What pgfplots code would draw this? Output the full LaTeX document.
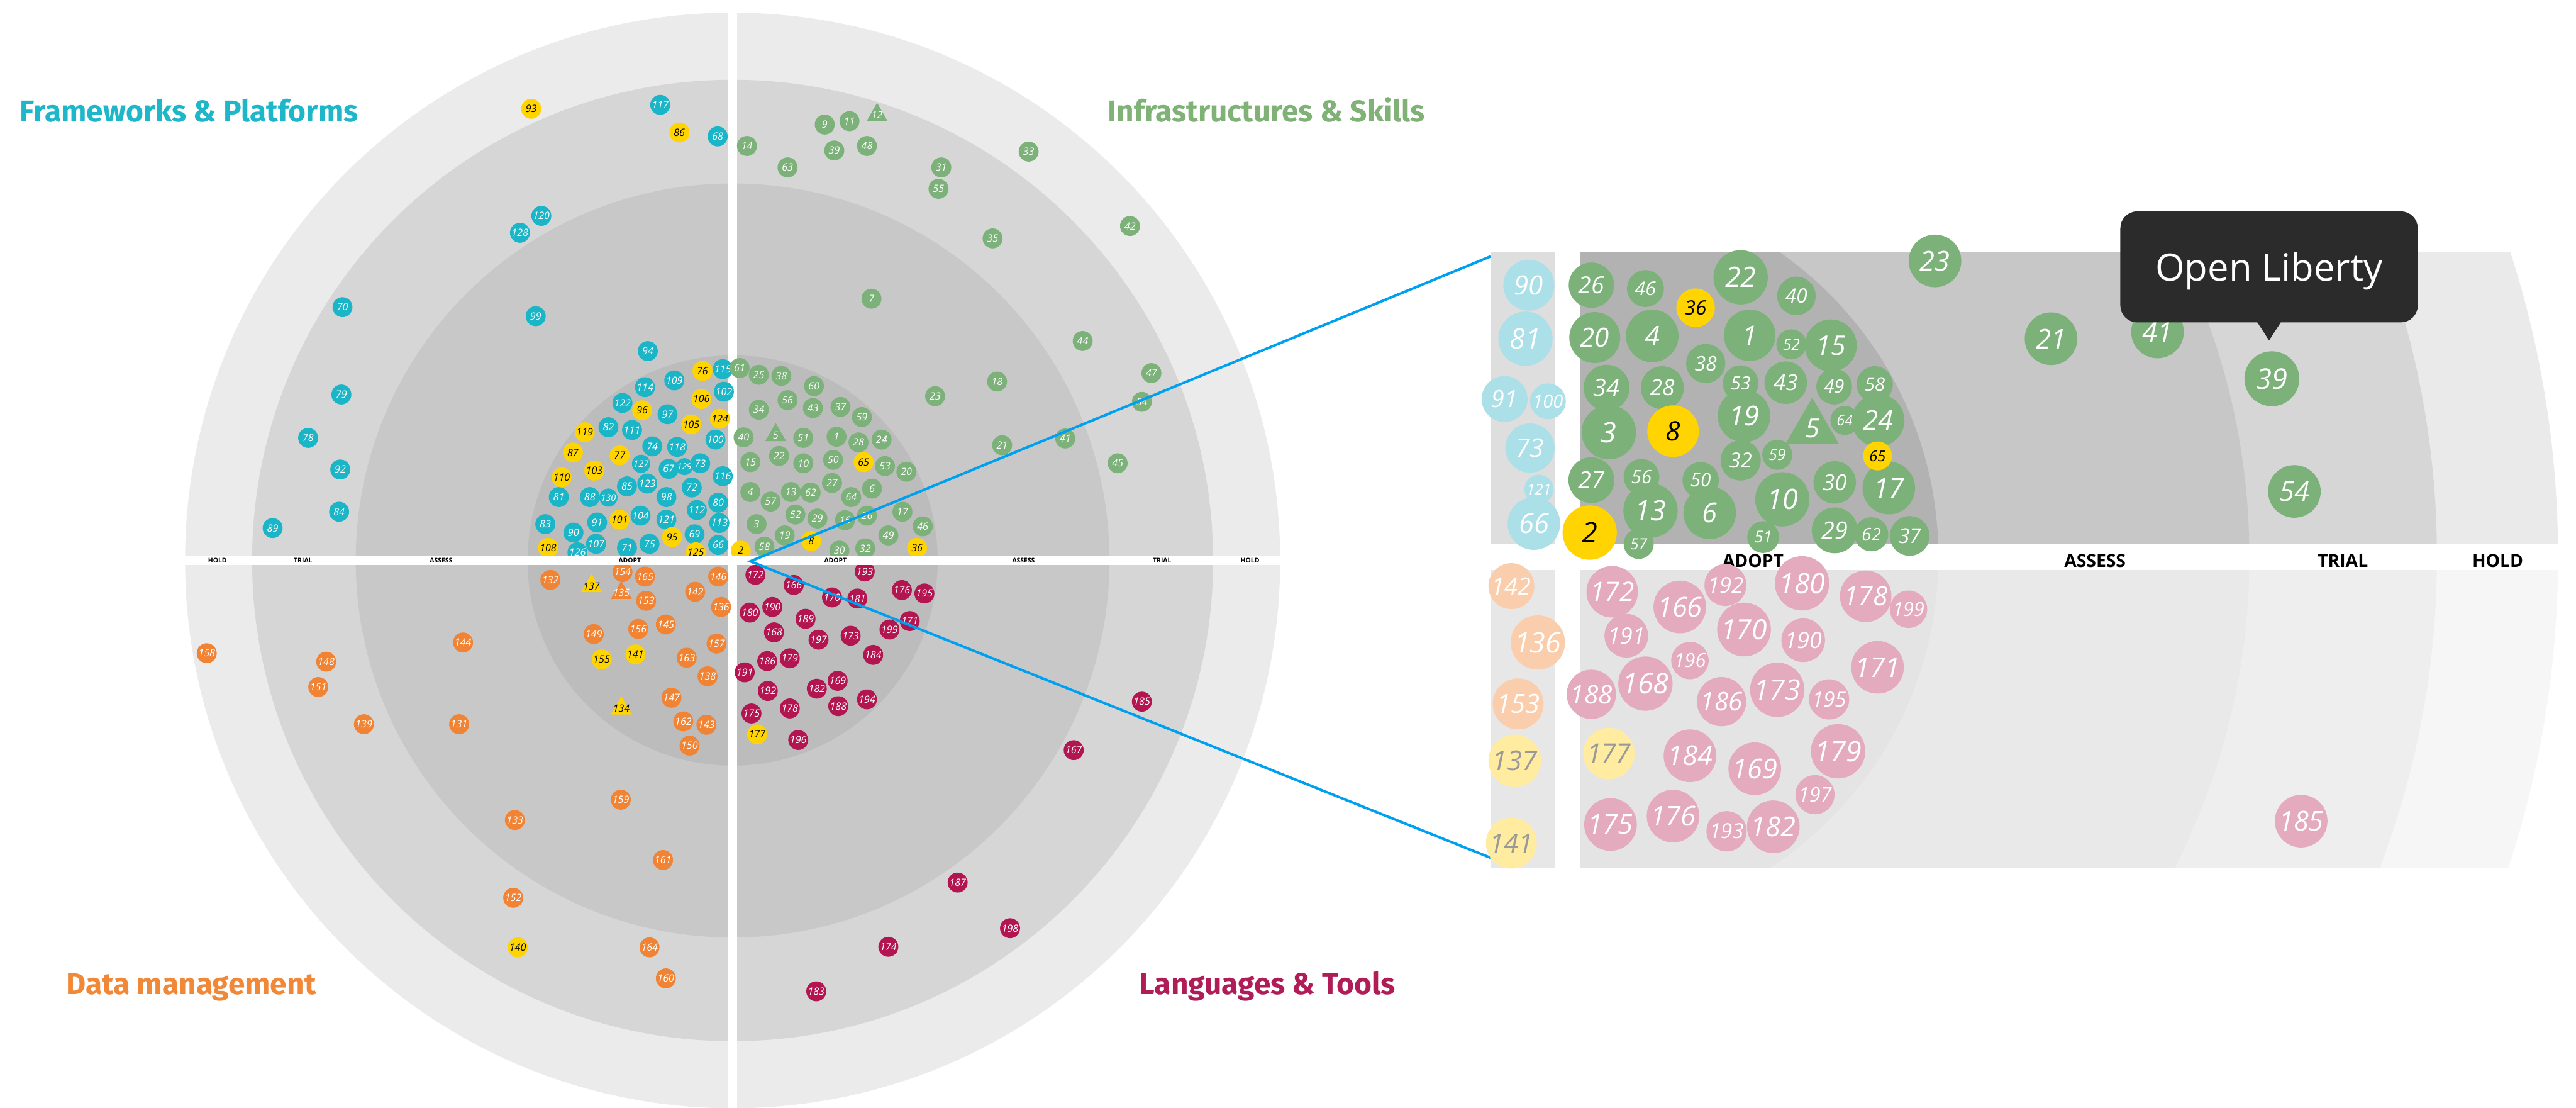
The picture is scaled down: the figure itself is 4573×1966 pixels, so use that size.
\documentclass[border=0pt]{standalone}
\usepackage{fontspec}
\setmainfont{Open Sans}
\newfontfamily\titlefont{Fira Sans}
\usepackage{pgfplots}
\pgfplotsset{compat=1.18}

\definecolor{cteal}{RGB}{27,181,200}
\definecolor{cgreen}{RGB}{124,178,122}
\definecolor{corange}{RGB}{240,131,52}
\definecolor{ccrim}{RGB}{178,21,80}
\definecolor{cyellow}{RGB}{255,212,0}
\definecolor{fteal}{RGB}{172,224,232}
\definecolor{fpeach}{RGB}{250,206,172}
\definecolor{fyellow}{RGB}{255,236,160}
\definecolor{fpink}{RGB}{228,170,190}
\definecolor{tteal}{RGB}{30,182,201}
\definecolor{tgreen}{RGB}{128,178,120}
\definecolor{torange}{RGB}{240,136,56}
\definecolor{tcrim}{RGB}{176,28,88}
\definecolor{bline}{RGB}{0,160,240}
\definecolor{tipc}{RGB}{43,43,43}

\pgfplotsset{
  bub/.style n args={4}{%
    scatter, only marks, mark=#3,
    point meta=\thisrow{d},
    visualization depends on={0.14226*\thisrow{d}\as\bubms},
    visualization depends on={#4*\thisrow{d}\as\bubfs},
    visualization depends on={value \thisrow{n}\as\bublbl},
    scatter/use mapped color={draw=#1, fill=#1},
    scatter/@pre marker code/.append style={/tikz/mark size=\bubms},
    nodes near coords*={\bublbl},
    nodes near coords align={center},
    nodes near coords style={anchor=center, inner sep=0pt, text=#2,
      font=\itshape\fontsize{\bubfs}{\bubfs}\selectfont},
  },
}

\begin{document}
\begin{tikzpicture}
% ---------------- backgrounds ----------------
\begin{scope}[x=0.1mm,y=-0.1mm]
  \path (0,0) rectangle (4573,1966);
  \fill[black!8] (1300.5,994.5) circle[radius=97.2mm];
  \fill[black!16] (1300.5,994.5) circle[radius=85.3mm];
  \fill[black!21.6] (1300.5,994.5) circle[radius=66.9mm];
  \fill[black!26.3] (1300.5,994.5) circle[radius=36.4mm];
  \fill[white] (1293,0) rectangle (1308,1966);
  % zoom panel
  \begin{scope}
    \clip (2804,448) rectangle (4573,965);
    \fill[black!8.2] (2782,988) circle[radius=175.9mm];
    \fill[black!16] (2782,988) circle[radius=154.4mm];
    \fill[black!22] (2782,988) circle[radius=121.1mm];
    \fill[black!30] (2782,988) circle[radius=65.9mm];
  \end{scope}
  \begin{scope}
    \clip (2804,1011) rectangle (4573,1540);
    \fill[black!3.5] (2782,988) circle[radius=175.9mm];
    \fill[black!6.5] (2782,988) circle[radius=154.4mm];
    \fill[black!8.5] (2782,988) circle[radius=121.1mm];
    \fill[black!10.5] (2782,988) circle[radius=65.9mm];
  \end{scope}
  \fill[black!13] (2646,448) rectangle (2760,965);
  \fill[black!9.5] (2646,1011) rectangle (2760,1540);
  % titles
  \node[anchor=base west, inner sep=0pt, text=tteal, font=\titlefont\bfseries\fontsize{15.2}{17}\selectfont] at (35,216) {Frameworks \& Platforms};
  \node[anchor=base west, inner sep=0pt, text=tgreen, font=\titlefont\bfseries\fontsize{15.2}{17}\selectfont] at (1966,216) {Infrastructures \& Skills};
  \node[anchor=base west, inner sep=0pt, text=torange, font=\titlefont\bfseries\fontsize{15.2}{17}\selectfont] at (117,1765) {Data management};
  \node[anchor=base west, inner sep=0pt, text=tcrim, font=\titlefont\bfseries\fontsize{15.2}{17}\selectfont] at (2022,1765) {Languages \& Tools};
\end{scope}

% ---------------- radar bubbles ----------------
\begin{axis}[at={(0,0)}, anchor=north west, x=0.1mm, y=0.1mm, y dir=reverse,
  xmin=0, xmax=4573, ymin=0, ymax=1966, hide axis, clip=false]
\addplot[bub={cteal}{white}{*}{0.15}] table[row sep=\\]{
x y d n\\
1150 623 34 94\\ 1283 655 34 115\\ 1197 675 34 109\\ 1145 687 34 114\\
1285 695 34 102\\ 1105 715 34 122\\ 1185 735 34 97\\ 1080 758 34 82\\
1122 763 34 111\\ 1270 780 34 100\\ 1158 792 34 74\\ 1202 793 34 118\\
1138 823 31 127\\ 1187 832 34 67\\ 1215 828 29 129\\ 1243 822 34 73\\
1283 845 34 116\\ 1113 863 34 85\\ 1149 858 34 123\\ 1228 865 34 72\\
1183 882 34 98\\ 992 882 34 81\\ 1047 882 34 88\\ 1080 883 31 130\\
1275 892 34 80\\ 1237 905 34 112\\ 1137 915 34 104\\ 1183 922 34 121\\
1060 927 34 91\\ 1277 928 34 113\\ 968 930 34 83\\ 1018 945 34 90\\
1233 948 34 69\\ 1058 965 34 107\\ 1153 965 34 75\\ 1275 967 34 66\\
1113 972 34 71\\ 1025 980 34 126\\
1172 186 34 117\\ 1274 242 34 68\\ 961 383 34 120\\ 923 413 34 128\\
608 545 34 70\\ 951 561 34 99\\ 606 700 34 79\\ 547 777 34 78\\
604 833 34 92\\ 602 908 34 84\\ 484 937 34 89\\
};
\addplot[bub={cgreen}{white}{*}{0.15}] table[row sep=\\]{
x y d n\\
1313 653 34 61\\ 1347 665 34 25\\ 1387 667 34 38\\ 1445 685 34 60\\
1398 710 34 56\\ 1347 727 34 34\\ 1443 724 34 43\\ 1492 722 34 37\\
1530 740 34 59\\ 1660 703 34 23\\ 1320 776 34 40\\ 1426 777 34 51\\
1485 775 34 1\\ 1524 785 34 28\\ 1565 780 34 24\\ 1332 820 34 15\\
1383 809 34 22\\ 1426 822 34 10\\ 1479 816 34 50\\ 1571 827 34 53\\
1609 837 34 20\\ 1477 857 34 27\\ 1332 873 34 4\\ 1404 873 34 13\\
1439 874 34 62\\ 1511 882 34 64\\ 1548 867 34 6\\ 1368 890 34 57\\
1602 908 34 17\\ 1412 913 34 52\\ 1451 920 34 29\\ 1500 923 34 16\\
1539 915 34 26\\ 1638 934 34 46\\ 1343 930 34 3\\ 1577 950 34 49\\
1393 950 34 19\\ 1357 970 34 58\\ 1490 977 34 30\\ 1536 973 34 32\\
1326 259 34 14\\ 1464 221 34 9\\ 1508 215 34 11\\ 1481 267 34 39\\
1539 259 34 48\\ 1398 297 34 63\\ 1671 297 34 31\\ 1666 335 34 55\\
1826 269 34 33\\ 2006 401 34 42\\ 1762 423 34 35\\ 1547 530 34 7\\
1922 605 34 44\\ 2044 662 34 47\\ 1770 677 34 18\\ 2027 713 34 54\\
1779 790 34 21\\ 1891 778 34 41\\ 1984 822 34 45\\
};
\addplot[bub={cgreen}{white}{triangle*}{0.125}] table[row sep=\\]{
x y d n\\
1377 772 40 5\\ 1557 204 40 12\\
};
\addplot[bub={corange}{white}{*}{0.15}] table[row sep=\\]{
x y d n\\
977 1029 34 132\\ 1105 1015 34 154\\ 1145 1023 34 165\\ 1275 1023 34 146\\
1147 1066 34 153\\ 1234 1050 34 142\\ 1280 1077 34 136\\ 1054 1125 34 149\\
1133 1116 34 156\\ 1182 1108 34 145\\ 1272 1142 34 157\\ 1219 1167 34 163\\
1256 1200 34 138\\ 1192 1238 34 147\\ 1213 1280 34 162\\ 1254 1286 34 143\\
1224 1323 34 150\\ 367 1159 34 158\\ 579 1174 34 148\\ 565 1219 34 151\\
646 1285 34 139\\ 822 1140 34 144\\ 815 1285 34 131\\ 1102 1419 34 159\\
914 1455 34 133\\ 1177 1526 34 161\\ 911 1593 34 152\\ 1153 1681 34 164\\
1182 1736 34 160\\
};
\addplot[bub={corange}{white}{triangle*}{0.125}] table[row sep=\\]{
x y d n\\
1103 1052 40 135\\
};
\addplot[bub={ccrim}{white}{*}{0.15}] table[row sep=\\]{
x y d n\\
1341 1020 34 172\\ 1409 1038 34 166\\ 1535 1014 34 193\\ 1477 1060 34 170\\
1522 1062 34 181\\ 1601 1047 34 176\\ 1641 1053 34 195\\ 1331 1087 34 180\\
1371 1077 34 190\\ 1430 1098 34 189\\ 1615 1102 34 171\\ 1579 1117 34 199\\
1374 1122 34 168\\ 1453 1135 34 197\\ 1510 1128 34 173\\ 1550 1162 34 184\\
1362 1173 34 186\\ 1402 1168 34 179\\ 1322 1193 34 191\\ 1487 1208 34 169\\
1363 1226 34 192\\ 1450 1222 34 182\\ 1539 1241 34 194\\ 1488 1253 34 188\\
1334 1266 34 175\\ 1402 1257 34 178\\ 1417 1313 34 196\\ 2027 1245 34 185\\
1906 1331 34 167\\ 1700 1566 34 187\\ 1793 1647 34 198\\ 1577 1680 34 174\\
1449 1759 34 183\\
};
\addplot[bub={cyellow}{black}{*}{0.15}] table[row sep=\\]{
x y d n\\
1247 658 34 76\\ 1245 708 34 106\\ 1140 728 34 96\\ 1278 743 34 124\\
1227 753 34 105\\ 1038 767 34 119\\ 1017 803 34 87\\ 1100 808 34 77\\
1055 835 34 103\\ 997 847 34 110\\ 1100 922 34 101\\ 1193 953 34 95\\
973 972 34 108\\ 1235 980 34 125\\ 943 193 34 93\\ 1206 235 34 86\\
1533 820 34 65\\ 1440 960 34 8\\ 1628 972 34 36\\ 1315 977 34 2\\
1068 1170 34 155\\ 1128 1161 34 141\\ 919 1681 34 140\\ 1344 1303 34 177\\
};
\addplot[bub={cyellow}{black}{triangle*}{0.125}] table[row sep=\\]{
x y d n\\
1050 1040 40 137\\ 1103 1257 40 134\\
};
\end{axis}

% ---------------- radar band, labels, zoom lines ----------------
\begin{scope}[x=0.1mm,y=-0.1mm]
  \fill[white] (300,986) rectangle (2300,1003);
  \begin{scope}[every node/.style={inner sep=0pt, font=\bfseries\fontsize{3.3}{4}\selectfont}]
    \node at (386,995) {HOLD};
    \node at (538,995) {TRIAL};
    \node at (783,995) {ASSESS};
    \node at (1118,995) {ADOPT};
    \node at (1483,995) {ADOPT};
    \node at (1817,995) {ASSESS};
    \node at (2063,995) {TRIAL};
    \node at (2219,995) {HOLD};
  \end{scope}
  \draw[bline, line width=0.45mm] (2646,455) -- (1332,996) -- (2646,1522);
  \fill[white] (2760,448) rectangle (2804,1540);
  \fill[white] (2646,965) rectangle (4573,1011);
  \begin{scope}[every node/.style={inner sep=0pt, font=\bfseries\fontsize{9}{10}\selectfont}]
    \node at (3112,995) {ADOPT};
    \node at (3719,995) {ASSESS};
    \node at (4159,995) {TRIAL};
    \node at (4434,995) {HOLD};
  \end{scope}
\end{scope}

% ---------------- zoom panel bubbles ----------------
\begin{axis}[at={(264.6mm,-44.8mm)}, anchor=north west, x=0.1mm, y=0.1mm, y dir=reverse,
  xmin=2646, xmax=4573, ymin=448, ymax=1540, hide axis, clip=true]
\addplot[bub={fteal}{white}{*}{0.15}] table[row sep=\\]{
x y d n\\
2714 506 89 90\\ 2708 601 95 81\\ 2671 708 80 91\\ 2748 712 62 100\\
2716 795 86 73\\ 2732 868 50 121\\ 2723 929 92 66\\ 2632 775 80 123\\
2630 910 80 126\\
};
\addplot[bub={fyellow}{black!40}{*}{0.15}] table[row sep=\\]{
x y d n\\
2632 645 80 124\\ 2634 830 80 110\\ 2636 955 80 105\\
2689 1350 92 137\\ 2683 1496 89 141\\
};
\addplot[bub={fpeach}{white}{*}{0.15}] table[row sep=\\]{
x y d n\\
2683 1040 80 142\\ 2730 1140 95 136\\ 2695 1249 89 153\\
};
\addplot[bub={fpink}{white}{*}{0.15}] table[row sep=\\]{
x y d n\\
2862 1050 90 172\\ 2982 1077 92 166\\ 3063 1038 73 192\\ 3199 1035 95 180\\
3312 1058 90 178\\ 3388 1081 65 199\\ 2887 1128 76 191\\ 3096 1117 94 170\\
3201 1136 76 190\\ 3000 1172 65 196\\ 3333 1184 92 171\\ 2825 1232 86 188\\
2921 1213 95 168\\ 3056 1245 86 186\\ 3155 1224 95 173\\ 3247 1241 70 195\\
3000 1341 92 184\\ 3115 1364 92 169\\ 3263 1333 95 179\\ 3222 1410 68 197\\
2859 1463 92 175\\ 2970 1448 92 176\\ 3065 1475 70 193\\ 3148 1467 92 182\\
4085 1457 92 185\\
};
\addplot[bub={fyellow}{black!40}{*}{0.15}] table[row sep=\\]{
x y d n\\
2856 1337 90 177\\
};
\addplot[bub={cgreen}{white}{*}{0.15}] table[row sep=\\]{
x y d n\\
2985 435 80 25\\
2825 506 79 26\\ 2921 512 64 46\\ 3090 492 95 22\\ 3189 525 67 40\\
2831 599 89 20\\ 2933 596 92 4\\ 3106 595 90 1\\ 3180 611 52 52\\
3250 613 91 15\\ 3028 645 68 38\\ 2852 688 80 34\\ 2951 688 75 28\\
3090 680 62 53\\ 3170 679 74 43\\ 3256 686 62 49\\ 3328 682 63 58\\
2856 767 95 3\\ 3096 738 92 19\\ 3275 746 50 64\\ 3334 746 92 24\\
3090 817 70 32\\ 3155 807 52 59\\ 2825 852 80 27\\ 2914 846 62 56\\
3019 852 63 50\\ 2930 906 95 13\\ 3035 910 92 6\\ 3164 886 95 10\\
3257 856 74 30\\ 3353 866 92 17\\ 2909 965 52 57\\ 3130 953 55 51\\
3257 941 80 29\\ 3322 948 59 62\\ 3390 951 69 37\\ 3435 463 92 23\\
3641 601 92 21\\ 3830 589 92 41\\ 4033 672 96 39\\ 4073 872 92 54\\
};
\addplot[bub={cgreen}{white}{triangle*}{0.125}] table[row sep=\\]{
x y d n\\
3217 760 106 5\\
};
\addplot[bub={cyellow}{black}{*}{0.15}] table[row sep=\\]{
x y d n\\
3010 546 67 36\\ 2970 765 90 8\\ 3333 809 50 65\\ 2822 945 95 2\\
};
\end{axis}

% ---------------- tooltip ----------------
\begin{scope}[x=0.1mm,y=-0.1mm]
  \fill[tipc, rounded corners=3mm] (3764,375) rectangle (4292,572);
  \fill[tipc] (4006,570) -- (4050,570) -- (4028,604) -- cycle;
  \node[anchor=base, inner sep=0pt, text=white, font=\fontsize{19}{22}\selectfont] at (4028,499) {Open Liberty};
\end{scope}
\pgfresetboundingbox
\path (0,0) rectangle (457.3mm,-196.6mm);
\end{tikzpicture}
\end{document}
